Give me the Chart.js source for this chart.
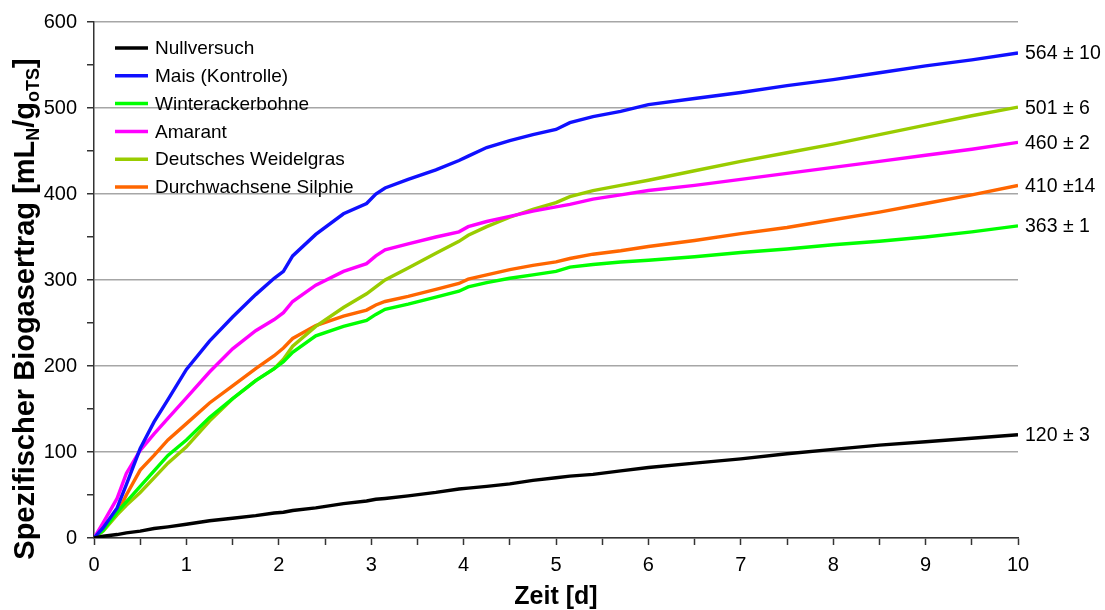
<!DOCTYPE html>
<html lang="de">
<head>
<meta charset="utf-8">
<title>Spezifischer Biogasertrag</title>
<script src="https://cdn.jsdelivr.net/npm/chart.js@4.4.1/dist/chart.umd.min.js"></script>
<style>
  body { margin: 0; background: #fff; }
  #wrap { width: 1105px; height: 610px; }
</style>
</head>
<body>
<div id="wrap"><canvas id="biogas" width="1105" height="610"></canvas></div>
<script>
// Messzeitpunkte [d]
const zeit = [0, 0.1, 0.25, 0.35, 0.5, 0.65, 0.8, 1.0, 1.25, 1.5, 1.75, 1.95, 2.05, 2.15, 2.4, 2.7, 2.95, 3.05, 3.15, 3.4,
              3.7, 3.95, 4.05, 4.25, 4.5, 4.75, 5.0, 5.15, 5.4, 5.7, 6.0, 6.5, 7, 7.5, 8, 8.5, 9, 9.5, 10];

// kumulierter spezifischer Biogasertrag [mLN/goTS]
const nullversuch = [0, 2, 4, 6, 8, 11, 13, 16, 20, 23, 26, 29, 30, 32, 35, 40, 43, 45, 46, 49,
                     53, 57, 58, 60, 63, 67, 70, 72, 74, 78, 82, 87, 92, 98, 103, 108, 112, 116, 120];
const mais = [0, 12, 35, 62, 104, 135, 161, 196, 229, 257, 283, 302, 310, 328, 353, 377, 389, 400, 407, 417,
              428, 439, 444, 454, 462, 469, 475, 483, 490, 496, 504, 511, 518, 526, 533, 541, 549, 556, 564];
const winterackerbohne = [0, 9, 30, 42, 60, 78, 96, 114, 140, 162, 183, 197, 205, 216, 235, 246, 253, 260, 266, 272,
                          280, 287, 292, 297, 302, 306, 310, 315, 318, 321, 323, 327, 332, 336, 341, 345, 350, 356, 363];
const amarant = [0, 18, 46, 75, 102, 121, 139, 163, 193, 220, 241, 254, 262, 275, 294, 310, 319, 328, 335, 342,
                 350, 356, 362, 368, 374, 380, 385, 388, 394, 399, 404, 410, 417, 424, 431, 438, 445, 452, 460];
const weidelgras = [0, 8, 27, 38, 53, 70, 87, 106, 136, 162, 183, 197, 208, 223, 246, 268, 284, 292, 300, 314,
                    331, 345, 352, 362, 373, 382, 390, 397, 404, 410, 416, 427, 438, 448, 458, 469, 480, 491, 501];
const silphie = [0, 9, 28, 50, 79, 96, 114, 133, 157, 177, 197, 212, 221, 232, 247, 258, 265, 271, 275, 281,
                 289, 296, 301, 306, 312, 317, 321, 325, 330, 334, 339, 346, 354, 361, 370, 379, 389, 399, 410];

const namen = ['Nullversuch', 'Mais (Kontrolle)', 'Winterackerbohne', 'Amarant', 'Deutsches Weidelgras', 'Durchwachsene Silphie'];
const reihen = [nullversuch, mais, winterackerbohne, amarant, weidelgras, silphie];
// Endwert mit Standardabweichung
const endwerte = ['120 ± 3', '564 ± 10', '363 ± 1', '460 ± 2', '501 ± 6', '410 ±14'];

const farben = ['#000000', '#1010ff', '#00ff00', '#ff00ff', '#99cc00', '#ff6600'];
const schrift = '"Liberation Sans", Arial, sans-serif';

Chart.defaults.font.family = schrift;
Chart.defaults.color = '#000';

const datasets = reihen.map((werte, i) => ({
    label: namen[i],
    data: werte.map((w, j) => ({ x: zeit[j], y: w })),
    borderColor: farben[i],
    backgroundColor: farben[i],
    borderWidth: 3.4,
    pointRadius: 0,
    tension: 0,
    fill: false
}));

// Legende, Endwerte und Achsentitel (mit tiefgestellten Indizes)
const beschriftung = {
    id: 'beschriftung',
    afterDatasetsDraw(chart) {
        const ctx = chart.ctx;
        const area = chart.chartArea;
        ctx.save();
        ctx.fillStyle = '#000';

        // Legende oben links
        ctx.font = '19px ' + schrift;
        ctx.textAlign = 'left';
        ctx.textBaseline = 'middle';
        namen.forEach((n, i) => {
            const y = 48 + i * 27.8;
            ctx.strokeStyle = farben[i];
            ctx.lineWidth = 3.5;
            ctx.beginPath();
            ctx.moveTo(115, y);
            ctx.lineTo(148, y);
            ctx.stroke();
            ctx.fillText(n, 155, y + 1);
        });

        // Endwerte rechts neben den Kurven
        ctx.font = '19.5px ' + schrift;
        chart.data.datasets.forEach((ds, i) => {
            const meta = chart.getDatasetMeta(i);
            const last = meta.data[meta.data.length - 1];
            ctx.fillText(endwerte[i], last.x + 7, last.y + 1);
        });

        // x-Achsentitel
        ctx.font = 'bold 25px ' + schrift;
        ctx.textAlign = 'center';
        ctx.fillText('Zeit [d]', (area.left + area.right) / 2, 597);

        // y-Achsentitel
        const gross = 'bold 29px ' + schrift;
        const klein = 'bold 18px ' + schrift;
        const teile = [
            ['Spezifischer Biogasertrag [mL', false],
            ['N', true],
            ['/g', false],
            ['oTS', true],
            [']', false]
        ];
        let breite = 0;
        teile.forEach(([t, sub]) => {
            ctx.font = sub ? klein : gross;
            breite += ctx.measureText(t).width;
        });
        ctx.translate(34, 309);
        ctx.rotate(-Math.PI / 2);
        ctx.textAlign = 'left';
        ctx.textBaseline = 'alphabetic';
        let x = -breite / 2;
        teile.forEach(([t, sub]) => {
            ctx.font = sub ? klein : gross;
            ctx.fillText(t, x, sub ? 5 : 0);
            x += ctx.measureText(t).width;
        });
        ctx.restore();
    }
};

new Chart(document.getElementById('biogas'), {
    type: 'line',
    data: { datasets: datasets },
    options: {
        responsive: false,
        animation: false,
        layout: { padding: { top: 10, right: 87, left: 0, bottom: 0 } },
        plugins: {
            legend: { display: false },
            tooltip: { enabled: false }
        },
        scales: {
            x: {
                type: 'linear',
                min: 0,
                max: 10,
                afterFit: scale => { scale.height = 72; },
                ticks: {
                    stepSize: 0.5,
                    autoSkip: false,
                    maxRotation: 0,
                    padding: 8,
                    font: { size: 20 },
                    callback: v => Number.isInteger(v) ? v : ''
                },
                grid: {
                    drawOnChartArea: false,
                    tickLength: 7,
                    tickColor: '#333',
                    tickWidth: 1.5
                },
                border: { color: '#333', width: 1.5 }
            },
            y: {
                min: 0,
                max: 600,
                afterFit: scale => { scale.width = 94; },
                ticks: {
                    stepSize: 50,
                    padding: 10,
                    font: { size: 20 },
                    callback: v => v % 100 === 0 ? v : ''
                },
                grid: {
                    color: c => c.tick && c.tick.value % 100 === 0 ? '#a6a6a6' : 'rgba(0,0,0,0)',
                    lineWidth: 1.5,
                    tickLength: 7,
                    tickColor: '#333',
                    tickWidth: 1.5
                },
                border: { color: '#333', width: 1.5 }
            }
        }
    },
    plugins: [beschriftung]
});
</script>
</body>
</html>
